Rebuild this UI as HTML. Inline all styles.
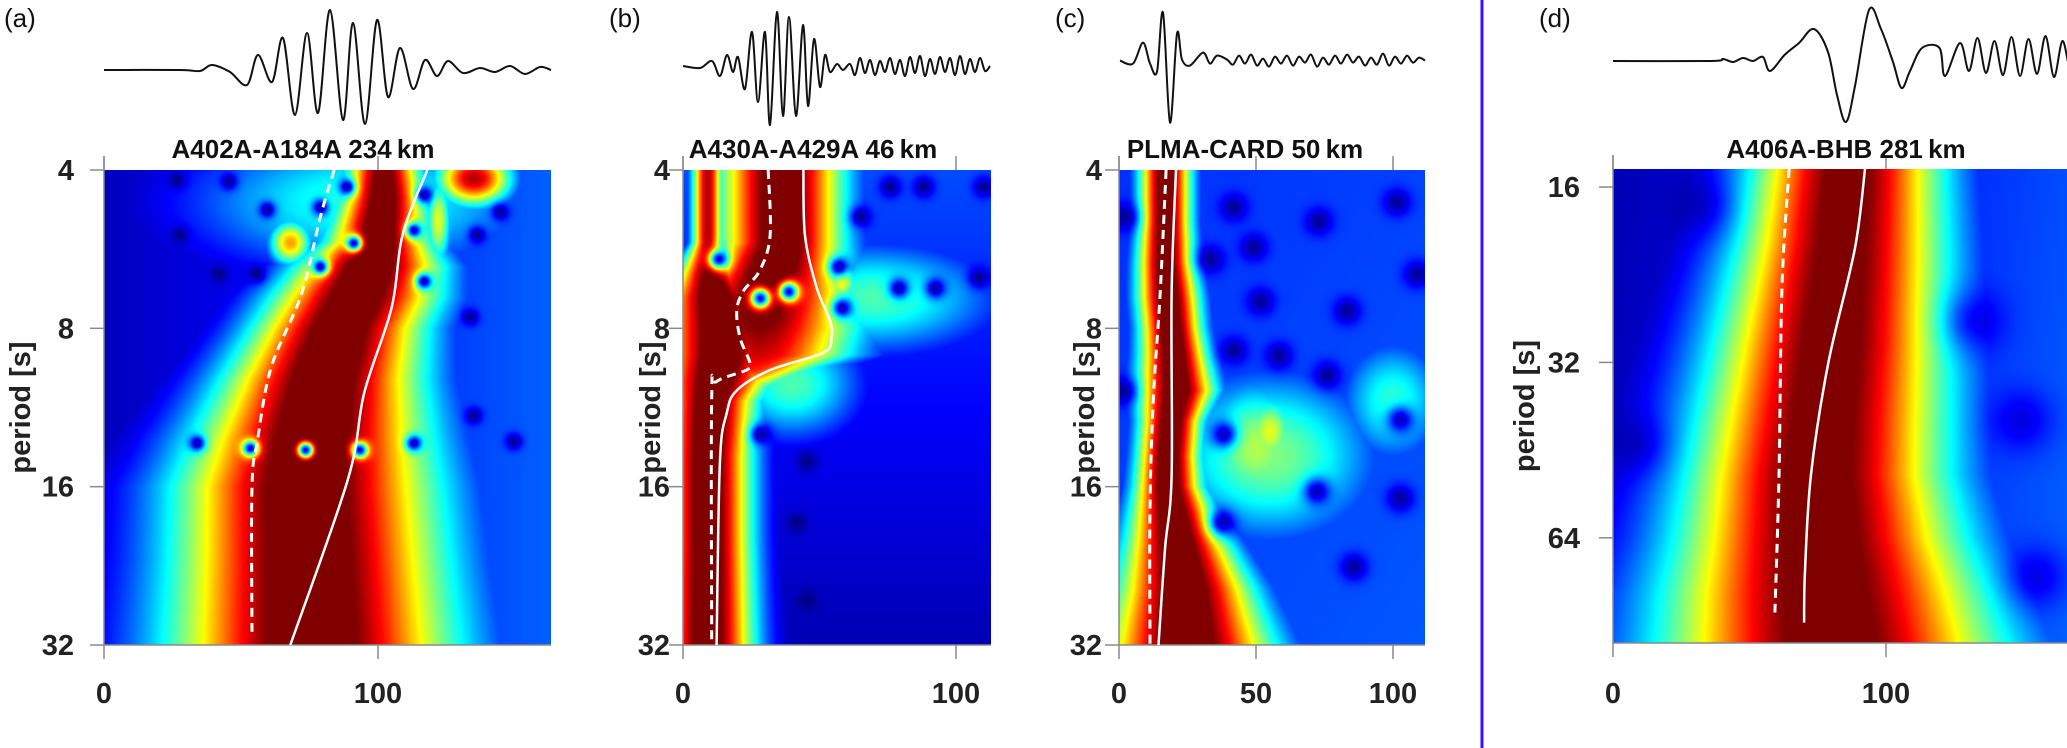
<!DOCTYPE html>
<html><head><meta charset="utf-8">
<style>
html,body{margin:0;padding:0;background:#fff;}
#root{position:relative;width:2067px;height:748px;overflow:hidden;background:#fff;font-family:"Liberation Sans",Arial,sans-serif;}
canvas{position:absolute;}
svg{position:absolute;left:0;top:0;}
</style></head>
<body>
<div id="root">
<canvas id="heat-a"></canvas>
<canvas id="heat-b"></canvas>
<canvas id="heat-c"></canvas>
<canvas id="heat-d"></canvas>
<svg id="ov" width="2067" height="748"></svg>
</div>
<script>
// ---------- DATA: panel (a) ----------
const aRidgeP=[4,4.5,5.5,6.1,7,8,10,13,16,22,32];
const aRidgeC=[102,102,100,97,92,86,80,76,74,75,76];
const aRidgeH=[14,16,20,28,32,33,38,45,50,52,55];
const aRidgeA=[1.05,1.08,1.1,1.1,1.1,1.1,1.1,1.1,1.1,1.1,1.1];
const aBlobX=[95,68,135,122];
const aBlobP=[4.6,5.5,4.15,5.0];
const aBlobWx=[65,8,14,5];
const aBlobWy=[0.45,0.15,0.18,0.3];
const aBlobA=[0.42,0.72,0.95,0.6];
const aHoleX=[26.5,45.4,59.4,78.8,88.6,116.6,91,112.9,136,144.5,27.7,41.7,55.7,78.8,116.6,133.5,134.8,149.4,33.8,53.3,73.4,93.2,112.9];
const aHoleP=[4.17,4.2,4.75,4.7,4.3,4.45,5.5,5.2,5.3,4.8,5.3,6.3,6.3,6.1,6.5,7.6,11.7,13.1,13.2,13.5,13.6,13.6,13.2];
const aSolidP=[4,5.3,7.3,10.6,15.5,32];
const aSolidV=[118,109,105,95,89,68];
const aDashP=[4,4.9,6.9,9.5,13.1,16,31];
const aDashV=[84,79,72,61,56,54,54];
// ---------- DATA: panel (b) ----------
const bRidge1P=[4,5.5,6.3,7,8,9,10,11,14,20,32];
const bRidge1C=[9,9,10,12,14,14,12,10,9,9,9];
const bRidge1H=[6,6,13,20,24,24,22,18,17,17,18];
const bRidge1A=[0.95,0.95,1.05,1.1,1.1,1.1,1.1,1.1,1.1,1.1,1.1];
const bRidge2P=[4,5.5,6.2,7,8,9,9.6,10.5,12];
const bRidge2C=[36,36,33,30,28,28,24,18,15];
const bRidge2H=[24,24,28,34,38,36,26,16,10];
const bRidge2A=[1.1,1.1,1.1,1.08,1.0,0.92,0.85,0.6,0];
const bBlobX=[70,58,40];
const bBlobP=[7.0,6.5,10.2];
const bBlobWx=[45,6,25];
const bBlobWy=[0.35,0.15,0.35];
const bBlobA=[0.45,0.65,0.45];
const bHoleX=[12.9,28.2,38.6,56.9,58.1,64.8,75.8,88,110,78.9,92.3,108.2,28.2,41.6,45.3,45.3];
const bHoleP=[5.9,7.0,6.8,6.1,7.3,4.9,4.3,4.3,4.3,6.7,6.7,6.4,12.7,18.7,26.3,14.3];
const bSolidP=[4,5.33,6.68,7.73,8.34,8.9,9.6,10.5,11.6,14.4,32];
const bSolidV=[44.1,44.7,48.9,53.8,54.4,51.4,31.9,19.7,16,13.5,12.3];
const bDashP=[4,5.33,6.2,6.8,7.4,8.34,9.3,9.6,10.1,10.9,32];
const bDashV=[31.2,31.9,28.2,22.1,19.7,20.9,24.5,23.3,12.3,10.5,10.5];
// ---------- DATA: panel (c) ----------
const cRidgeP=[4,5,6,7,8,9,10.5,12,14,16,20,25,32];
const cRidgeC=[17,17,17,18,19,20,21,19,18,18,21,24,25];
const cRidgeH=[10,10,11,12,12,13,15,12,12,13,19,26,33];
const cRidgeA=[1.08,1.08,1.08,1.1,1.1,1.1,1.1,1.1,1.1,1.1,1.1,1.1,1.1];
const cBlobX=[55,55,100,50];
const cBlobP=[14,12.6,11,13.5];
const cBlobWx=[40,10,20,22];
const cBlobWy=[0.55,0.25,0.4,0.45];
const cBlobA=[0.5,0.6,0.42,0.55];
const cHoleX=[41.7,72.8,101.3,33.2,49,51.5,83.1,41.7,58.2,75.8,1.6,38.1,102.5,37.5,72.1,102.5,85.5,1.6,108.6];
const cHoleP=[4.7,5.0,4.6,5.9,5.6,7.1,7.4,8.8,9.0,9.8,10.5,12.7,11.9,18.7,16.3,16.8,22.7,4.9,6.3];
const cSolidP=[4,6.9,15.3,21,32];
const cSolidV=[20.8,19.2,19.2,16.8,14.4];
const cDashP=[4,6.9,10.9,17.6,32];
const cDashV=[17.2,15,12.5,11.3,11.3];
// ---------- DATA: panel (d) ----------
const dRidgeP=[14.9,20,30,40,50,64,80,97];
const dRidgeC=[86,84,80,77,75,76,78,80];
const dRidgeH=[37,40,45,48,50,55,62,66];
const dRidgeA=[1.05,1.05,1.06,1.06,1.07,1.07,1.07,1.07];
const dBlobX=[]; const dBlobP=[]; const dBlobWx=[]; const dBlobWy=[]; const dBlobA=[];
const dHoleX=[132,149.4,155,32,8];
const dHoleP=[27.1,40.2,74.6,17.2,44];
const dSolidP=[14.9,20.4,32.2,50,73.5,89.5];
const dSolidV=[92.3,88.6,78.8,72.5,70.3,70];
const dDashP=[14.9,23.7,50,86];
const dDashV=[64.5,61.9,60.8,59.3];
// ---------- tick labels ----------
const yTicksABC=[4,8,16,32];
const yTicksD=[16,32,64];
const xTicksA=[0,100]; const xTicksB=[0,100]; const xTicksC=[0,50,100]; const xTicksD=[0,100];
// ---------- waveforms (offset, amplitude) ----------
const waveAx=[0,76,96,108,126,143,154,168,179,191,203,214,226,239,249,261,273,284,296,309,321,333,344,359,376,391,406,421,436,447];
const waveAy=[0,0,-1,5,-2,-15,15,-12,32,-45,37,-43,60,-50,47,-54,50,-27,22,-19,10,-6,9,-3,2,-2,4,-4,3,0];
const waveBx=[0,17,29,37,44,50,55,62,69,75,82,87,94,100,106,113,120,125,131,137,142,147,154,160,167];
const waveBy=[0,-2,5,-10,11,-6,9,-23,34,-36,34,-59,54,-50,49,-50,41,-40,27,-21,11,-6,2,-4,2];
const waveBripple=[-9,8,-7,6,-9,5,-6,8,-8,6,-10,9,-7,10,-10,7,-8,9,-6,8,-9,10,-8,7,-6,8,-5,0];
const waveCx=[0,13,23,30,37,43,50,57,62,70,83,90,97,107];
const waveCy=[0,-3,18,-3,-11,48,-62,27,1,-5,8,-3,5,1];
const waveCripple=[-4,5,-3,6,-5,2,-6,4,-3,5,-5,4,-2,6,-6,3,-4,5,-3,6,-2,4,-5,3,-4,7,-5,4,-3,5,-2,3,0];
const waveDx=[0,98,110,120,130,140,150,157,171.5,186,201,215,224,233,242,256,268,280,288.5,297,309,326.5,332,347,356,364.5];
const waveDy=[0,0,2,-1,3,0,4,-10,6,18,32,9,-34,-61,-25,51,32,-1,-27,-10,13,13,-15,18,-10,23];
const waveDripple=[-12,20,-14,24,-15,22,-13,25,-16,20,-10,23,-14,18,-12,16,-8,12,-6,8];

// ---------- panel configs ----------
const panels=[
 {id:'a',left:104,right:551,top:170,bottom:645,ppu:2.74,pmin:4,pmax:32,
  ridges:[[aRidgeP,aRidgeC,aRidgeH,aRidgeA]],blobs:[aBlobX,aBlobP,aBlobWx,aBlobWy,aBlobA],
  holes:[aHoleX,aHoleP],holeR:8,holeD:0.92,b0:0.06,bx:0.16,by:0,
  solid:[aSolidP,aSolidV],dash:[aDashP,aDashV],yt:yTicksABC,xt:xTicksA,
  title:'A402A-A184A 234\u2009km',tx:303,lab:'(a)',lx:4,ylx:20,ytr:74},
 {id:'b',left:683,right:991,top:170,bottom:645,ppu:2.73,pmin:4,pmax:32,
  ridges:[[bRidge1P,bRidge1C,bRidge1H,bRidge1A],[bRidge2P,bRidge2C,bRidge2H,bRidge2A]],blobs:[bBlobX,bBlobP,bBlobWx,bBlobWy,bBlobA],
  holes:[bHoleX,bHoleP],holeR:10,holeD:0.9,b0:0.2,bx:0,by:-0.15,
  solid:[bSolidP,bSolidV],dash:[bDashP,bDashV],yt:yTicksABC,xt:xTicksB,
  title:'A430A-A429A 46\u2009km',tx:813,lab:'(b)',lx:609,ylx:650,ytr:670},
 {id:'c',left:1119,right:1425,top:170,bottom:645,ppu:2.74,pmin:4,pmax:32,
  ridges:[[cRidgeP,cRidgeC,cRidgeH,cRidgeA]],blobs:[cBlobX,cBlobP,cBlobWx,cBlobWy,cBlobA],
  holes:[cHoleX,cHoleP],holeR:13,holeD:0.85,b0:0.17,bx:0.02,by:0.02,
  solid:[cSolidP,cSolidV],dash:[cDashP,cDashV],yt:yTicksABC,xt:xTicksC,
  title:'PLMA-CARD 50\u2009km',tx:1245,lab:'(c)',lx:1055,ylx:1084,ytr:1102},
 {id:'d',left:1613,right:2067,top:169,bottom:643,ppu:2.73,pmin:14.9,pmax:97,
  ridges:[[dRidgeP,dRidgeC,dRidgeH,dRidgeA]],blobs:[dBlobX,dBlobP,dBlobWx,dBlobWy,dBlobA],
  holes:[dHoleX,dHoleP],holeR:30,holeD:0.5,b0:0.05,bx:0.15,by:0.02,
  solid:[dSolidP,dSolidV],dash:[dDashP,dDashV],yt:yTicksD,xt:xTicksD,
  title:'A406A-BHB 281\u2009km',tx:1846,lab:'(d)',lx:1539,ylx:1524,ytr:1580}
];
const waves=[
 {start:104,base:70,xs:waveAx,ys:waveAy,rip:[],step:0,name:'waveform-a'},
 {start:683,base:66,xs:waveBx,ys:waveBy,rip:waveBripple,step:5,name:'waveform-b'},
 {start:1120,base:60.6,xs:waveCx,ys:waveCy,rip:waveCripple,step:6,name:'waveform-c'},
 {start:1613,base:61,xs:waveDx,ys:waveDy,rip:waveDripple,step:8.5,name:'waveform-d'}
];

function lin(xs,vs,x){
  if(x<=xs[0])return vs[0];
  for(let i=1;i<xs.length;i++){ if(x<=xs[i]){const t=(x-xs[i-1])/(xs[i]-xs[i-1]);return vs[i-1]+t*(vs[i]-vs[i-1]);} }
  return vs[vs.length-1];
}
function jet(v){
  const c=x=>Math.max(0,Math.min(1,x));
  return [c(1.5-Math.abs(4*v-3))*255,c(1.5-Math.abs(4*v-2))*255,c(1.5-Math.abs(4*v-1))*255];
}
function yOf(P,p){return P.top+(Math.log2(p)-Math.log2(P.pmin))/(Math.log2(P.pmax)-Math.log2(P.pmin))*(P.bottom-P.top);}
function xOf(P,v){return P.left+v*P.ppu;}

function drawHeat(P){
  const cv=document.getElementById('heat-'+P.id);
  const W=Math.round(P.right-P.left),H=Math.round(P.bottom-P.top);
  cv.width=W;cv.height=H;cv.style.left=P.left+'px';cv.style.top=P.top+'px';
  const ctx=cv.getContext('2d');const img=ctx.createImageData(W,H);
  const L0=Math.log2(P.pmin),L1=Math.log2(P.pmax);
  const vmax=W/P.ppu;
  const rl=P.ridges.map(r=>r[0].map(Math.log2));
  const [bx,bp,bwx,bwy,ba]=P.blobs;const bl=bp.map(Math.log2);
  const hx=P.holes[0].map(v=>v*P.ppu), hy=P.holes[1].map(p=>yOf(P,p)-P.top);
  for(let py=0;py<H;py++){
    const L=L0+(py+0.5)/H*(L1-L0);
    const rows=P.ridges.map((r,i)=>[lin(rl[i],r[1],L),lin(rl[i],r[2],L)/1.04,lin(rl[i],r[3],L)]);
    const by=[];for(let k=0;k<bx.length;k++){const d=(L-bl[k])/bwy[k];by.push(ba[k]*Math.exp(-d*d));}
    for(let px=0;px<W;px++){
      const v=(px+0.5)/P.ppu;
      let f=P.b0+P.bx*(v/vmax)+P.by*((L-L0)/(L1-L0));
      for(const [c,w,a] of rows){const d=(v-c)/w;f=Math.max(f,a*Math.exp(-d*d));}
      for(let k=0;k<bx.length;k++){const d=(v-bx[k])/bwx[k];f=Math.max(f,by[k]*Math.exp(-d*d));}
      for(let k=0;k<hx.length;k++){const dx=px-hx[k],dy=py-hy[k];const r2=(dx*dx+dy*dy)/(P.holeR*P.holeR);if(r2<9)f*=1-P.holeD*Math.exp(-r2);}
      f=Math.max(0,Math.min(1,f));
      const [R,G,B]=jet(f);const o=(py*W+px)*4;
      img.data[o]=R;img.data[o+1]=G;img.data[o+2]=B;img.data[o+3]=255;
    }
  }
  ctx.putImageData(img,0,0);
}
function smooth(pts){
  let d='M'+pts[0][0].toFixed(1)+','+pts[0][1].toFixed(1);
  for(let i=0;i<pts.length-1;i++){
    const p0=pts[i-1]||pts[i],p1=pts[i],p2=pts[i+1],p3=pts[i+2]||p2;
    const c1=[p1[0]+(p2[0]-p0[0])/6,p1[1]+(p2[1]-p0[1])/6],c2=[p2[0]-(p3[0]-p1[0])/6,p2[1]-(p3[1]-p1[1])/6];
    d+=' C'+c1[0].toFixed(1)+','+c1[1].toFixed(1)+' '+c2[0].toFixed(1)+','+c2[1].toFixed(1)+' '+p2[0].toFixed(1)+','+p2[1].toFixed(1);
  }
  return d;
}
const NS='http://www.w3.org/2000/svg';const ov=document.getElementById('ov');
function mk(tag,attrs,parent){const e=document.createElementNS(NS,tag);for(const k in attrs)e.setAttribute(k,attrs[k]);(parent||ov).appendChild(e);return e;}

panels.forEach(P=>{
  drawHeat(P);
  const g=mk('g',{});
  
  
  const ax=mk('path',{d:`M${P.left},${P.top-14}V${P.bottom}H${P.right}`,stroke:'#8a8a8a','stroke-width':1.5,fill:'none'},g);
  
  
  P.yt.forEach(t=>{
    const y=yOf(P,t);
    const tk=mk('line',{x1:P.left-14,x2:P.left,y1:y,y2:y,stroke:'#8a8a8a','stroke-width':1.5},g);
    
    
    const tl=mk('text',{x:P.ytr,y:y+10,'text-anchor':'end','font-size':29,'font-weight':'bold',fill:'#222'},g);
    tl.textContent=t;
    
    
  });
  P.xt.forEach(t=>{
    const x=xOf(P,t);
    const tk=mk('path',{d:`M${x},${P.bottom}V${P.bottom+14}M${x},${P.top}V${P.top-14}`,stroke:'#8a8a8a','stroke-width':1.5},g);
    
    
    const tl=mk('text',{x:x,y:703,'text-anchor':'middle','font-size':29,'font-weight':'bold',fill:'#222'},g);
    tl.textContent=t;
    
    
  });
  const yl=mk('text',{x:0,y:0,transform:`translate(${P.ylx+10},${(P.top+P.bottom)/2}) rotate(-90)`,'text-anchor':'middle','font-size':29,'font-weight':'bold',fill:'#222'},g);
  yl.textContent='period [s]';
  
  
  const ti=mk('text',{x:P.tx,y:158,'text-anchor':'middle','font-size':26,'font-weight':'bold',fill:'#111'},g);
  ti.textContent=P.title;
  
  
  const lb=mk('text',{x:P.lx,y:27,'font-size':26,fill:'#111'},g);
  lb.textContent=P.lab;
  
  
  const sp=P.solid[0].map((p,i)=>[xOf(P,P.solid[1][i]),yOf(P,p)]);
  const sl=mk('path',{d:smooth(sp),stroke:'#fff','stroke-width':2.5,fill:'none'},g);
  
  
  const dp=P.dash[0].map((p,i)=>[xOf(P,P.dash[1][i]),yOf(P,p)]);
  const dl=mk('path',{d:smooth(dp),stroke:'#fff','stroke-width':3,'stroke-dasharray':'9 6',fill:'none'},g);
  
  
});
waves.forEach(w=>{
  const pts=w.xs.map((x,i)=>[w.start+x,w.base-w.ys[i]]);
  const last=w.xs[w.xs.length-1];
  w.rip.forEach((a,i)=>pts.push([w.start+last+w.step*(i+1),w.base-a]));
  const p=mk('path',{d:smooth(pts),stroke:'#111','stroke-width':2,fill:'none'});
  
  
});
const div=mk('line',{x1:1482,x2:1482,y1:0,y2:748,stroke:'#3a10f0','stroke-width':3});


</script>
</body></html>
